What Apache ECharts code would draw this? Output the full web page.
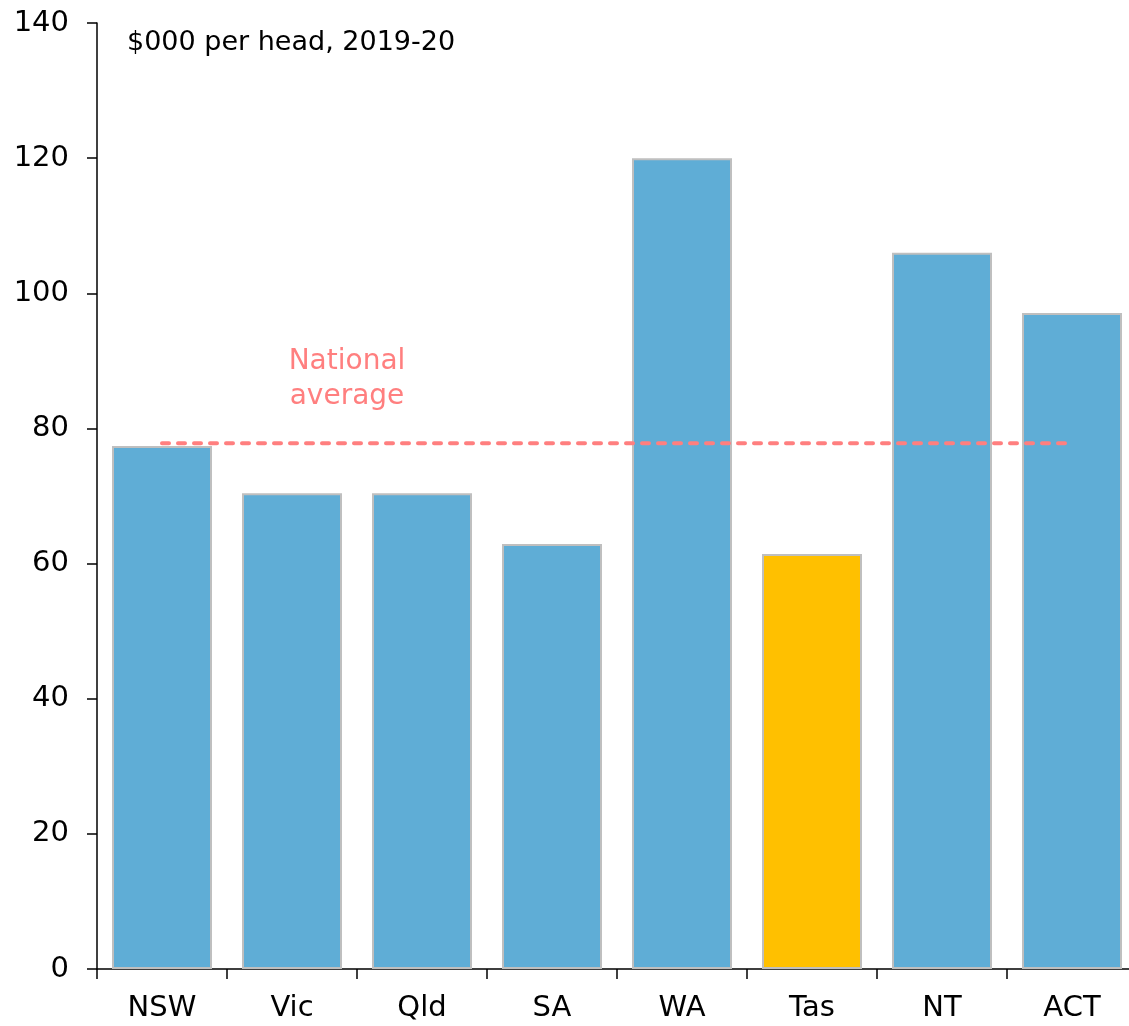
<!DOCTYPE html>
<html>
<head>
<meta charset="utf-8">
<script src="https://cdn.jsdelivr.net/npm/echarts@6/dist/echarts.min.js"></script>
<style>
  html, body { margin: 0; padding: 0; background: #fff; }
  #chart { width: 1129px; height: 1026px; }
</style>
</head>
<body>
<div id="chart"></div>
<script>
// data ($000 per head, 2019-20)
var states = ['NSW', 'Vic', 'Qld', 'SA', 'WA', 'Tas', 'NT', 'ACT'];
var perHead = [77.4, 70.4, 70.4, 62.9, 120.0, 61.4, 106.0, 97.1];
var nationalAvg = [77.8, 77.8, 77.8, 77.8, 77.8, 77.8, 77.8, 77.8];
var highlight = 'Tas';

var font = '"DejaVu Sans"';
var blue = '#5fadd6';
var gold = '#ffc000';
var pink = '#ff7f7f';

var barData = states.map(function (s, i) {
  return {
    value: perHead[i],
    itemStyle: { color: s === highlight ? gold : blue }
  };
});

var chart = echarts.init(document.getElementById('chart'));
chart.setOption({
  animation: false,
  textStyle: { fontFamily: font },
  grid: { left: 97, top: 23, right: -8, bottom: 57, containLabel: false, outerBoundsMode: 'none' },
  xAxis: {
    type: 'category',
    data: states,
    axisLine: { lineStyle: { color: '#000', width: 1.5 } },
    axisTick: { show: true, length: 10, lineStyle: { color: '#000', width: 1.5 } },
    axisLabel: { color: '#000', fontSize: 29, margin: 25, fontFamily: font }
  },
  yAxis: {
    type: 'value',
    min: 0,
    max: 140,
    interval: 20,
    axisLine: { show: true, lineStyle: { color: '#000', width: 1.5 } },
    axisTick: { show: true, length: 10, lineStyle: { color: '#000', width: 1.5 } },
    splitLine: { show: false },
    axisLabel: { color: '#000', fontSize: 29, margin: 28, fontFamily: font }
  },
  series: [
    {
      name: 'Per head',
      type: 'bar',
      data: barData,
      barWidth: 100,
      itemStyle: { borderColor: '#bfbfbf', borderWidth: 2 },
      z: 2
    },
    {
      name: 'National average',
      type: 'line',
      data: nationalAvg,
      symbol: 'none',
      lineStyle: { color: pink, width: 4, type: [7, 9], cap: 'round' },
      z: 10
    }
  ]
});

chart.setOption({
  graphic: [
    {
      type: 'text',
      x: 127,
      y: 29,
      z: 20,
      style: { text: '$000 per head, 2019-20', font: '27px ' + font, fill: '#000' }
    },
    {
      type: 'text',
      x: 347,
      y: 344,
      z: 20,
      style: {
        text: 'National\naverage',
        font: '28px ' + font,
        fill: pink,
        align: 'center',
        lineHeight: 35
      }
    }
  ]
});
</script>
</body>
</html>
